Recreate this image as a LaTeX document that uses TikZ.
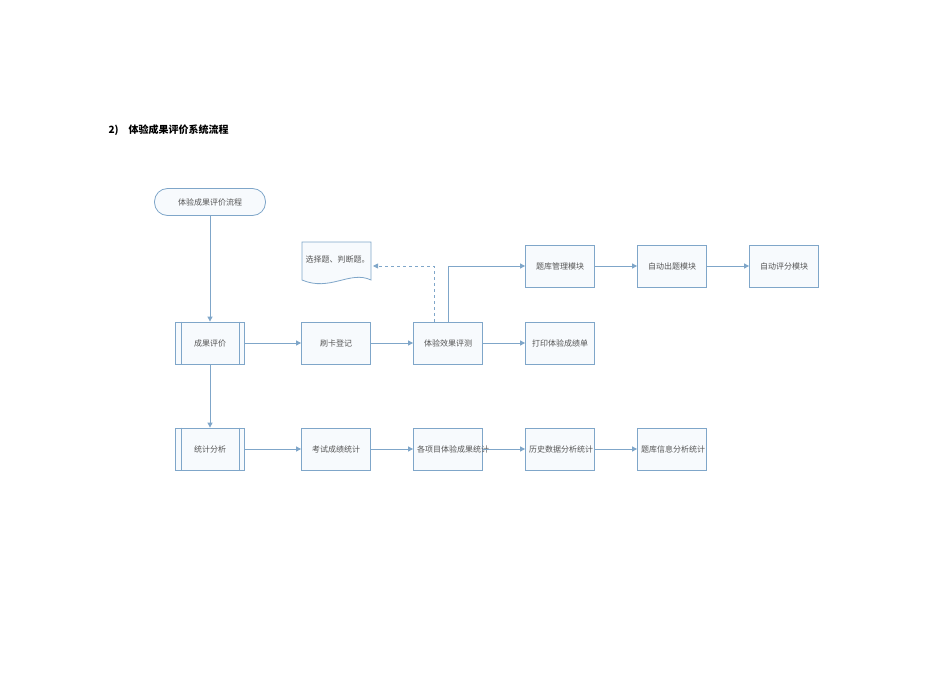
\documentclass[tikz,border=0pt]{standalone}
\usepackage{fontspec}
\setmainfont{Noto Sans CJK SC}
\usetikzlibrary{arrows.meta}
\definecolor{bd}{HTML}{7FA6C9}
\definecolor{fl}{HTML}{F7FAFD}
\definecolor{tx}{HTML}{555555}
\begin{document}
\begin{tikzpicture}[x=1pt,y=-1pt,
  box/.style={draw=bd,fill=fl,line width=0.8pt,minimum width=69pt,minimum height=42pt,text width=62pt,align=center,font=\fontsize{8}{11}\selectfont,text=tx},
  conn/.style={draw=bd,line width=0.8pt,-{Triangle[length=5pt,width=5pt]}}]
\useasboundingbox (0,0) rectangle (950,672);
\node[anchor=west,font=\bfseries\fontsize{10}{12}\selectfont] (title) at (105,130) {2)\quad 体验成果评价系统流程};
\node[draw=bd,fill=fl,line width=0.8pt,rounded corners=13pt,minimum width=111pt,minimum height=27pt,font=\fontsize{8}{11}\selectfont,text=tx] (start) at (210,202) {体验成果评价流程};
\node[box] (cp) at (210,343) {成果评价};
\node[box] (sk) at (336,343) {刷卡登记};
\node[box] (cs) at (448,343) {体验效果评测};
\node[box] (dy) at (560,343) {打印体验成绩单};
\node[box] (tk) at (560,266) {题库管理模块};
\node[box] (zc) at (672,266) {自动出题模块};
\node[box] (zp) at (784,266) {自动评分模块};
\node[box] (tj) at (210,449) {统计分析};
\node[box] (ks) at (336,449) {考试成绩统计};
\node[box] (gx) at (448,449) {各项目体验成果统计};
\node[box] (ls) at (560,449) {历史数据分析统计};
\node[box] (xx) at (672,449) {题库信息分析统计};
\foreach \n in {cp,tj}{
  \draw[bd,line width=0.8pt] ([xshift=6pt]\n.north west) -- ([xshift=6pt]\n.south west);
  \draw[bd,line width=0.8pt] ([xshift=-6pt]\n.north east) -- ([xshift=-6pt]\n.south east);}
% document shape
\draw[bd,fill=fl,line width=0.8pt] (302,242) -- (371,242) -- (371,280) .. controls (350,270) and (330,292) .. (302,280) -- cycle;
\node[font=\fontsize{8}{11}\selectfont,text=tx,text width=62pt,align=center] (doc) at (336.5,259) {选择题、判断题。};
\coordinate (docr) at (373,266);
\coordinate (dv) at (434,266);
\coordinate (sv) at (448,266);
\draw[conn] (start) -- (cp);
\draw[conn] (cp) -- (tj);
\draw[conn] (cp) -- (sk);
\draw[conn] (sk) -- (cs);
\draw[conn] (cs) -- (dy);
\draw[conn] (cs.north) -- (sv) -- (tk);
\draw[conn,dashed] (cs.north -| dv) -- (dv) -- (docr);
\draw[conn] (tk) -- (zc);
\draw[conn] (zc) -- (zp);
\draw[conn] (tj) -- (ks);
\draw[conn] (ks) -- (gx);
\draw[conn] (gx) -- (ls);
\draw[conn] (ls) -- (xx);
\end{tikzpicture}
\end{document}
